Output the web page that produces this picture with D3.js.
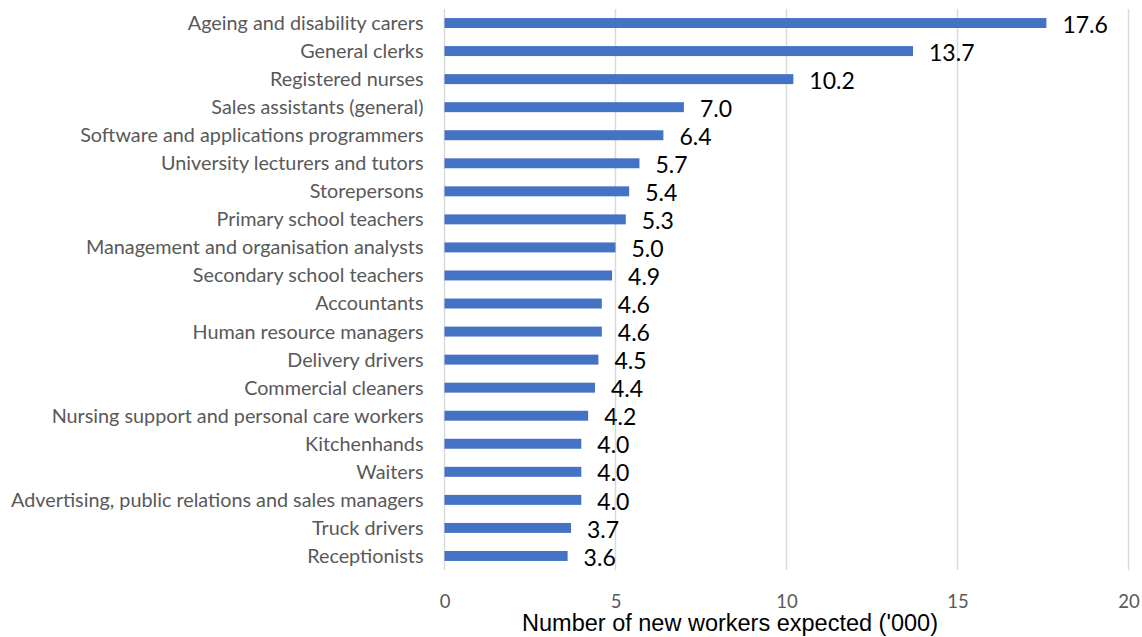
<!DOCTYPE html>
<html>
<head>
<meta charset="utf-8">
<script src="https://cdn.jsdelivr.net/npm/d3@7"></script>
<style>
  html, body { margin: 0; padding: 0; background: #ffffff; }
  svg { display: block; }
</style>
</head>
<body>
<svg id="chart" width="1142" height="637"></svg>
<script>
// Occupations, largest expected intake first
const occupations = [
  "Ageing and disability carers",
  "General clerks",
  "Registered nurses",
  "Sales assistants (general)",
  "Software and applications programmers",
  "University lecturers and tutors",
  "Storepersons",
  "Primary school teachers",
  "Management and organisation analysts",
  "Secondary school teachers",
  "Accountants",
  "Human resource managers",
  "Delivery drivers",
  "Commercial cleaners",
  "Nursing support and personal care workers",
  "Kitchenhands",
  "Waiters",
  "Advertising, public relations and sales managers",
  "Truck drivers",
  "Receptionists"
];

// New workers expected ('000)
const newWorkers = [17.6, 13.7, 10.2, 7.0, 6.4, 5.7, 5.4, 5.3, 5.0, 4.9,
                    4.6, 4.6, 4.5, 4.4, 4.2, 4.0, 4.0, 4.0, 3.7, 3.6];

const xTicks = [0, 5, 10, 15, 20];
const xTitle = "Number of new workers expected ('000)";

const rows = occupations.map((name, i) => ({ name, value: newWorkers[i] }));

const svg = d3.select("#chart");
const plot = { left: 444.5, right: 1128.5, top: 9, bottom: 570 };

const x = d3.scaleLinear().domain([0, 20]).range([plot.left, plot.right]);
const y = d3.scaleBand().domain(occupations).range([plot.top, plot.bottom]).paddingInner(0.645).paddingOuter(0.3225);

// vertical gridlines
svg.append("g")
  .selectAll("line")
  .data(xTicks)
  .join("line")
  .attr("x1", d => x(d)).attr("x2", d => x(d))
  .attr("y1", plot.top).attr("y2", plot.bottom)
  .attr("stroke", "#d9d9d9")
  .attr("stroke-width", 1.5);

// x tick labels
const xAxis = d3.axisBottom(x).tickValues(xTicks).tickSize(0).tickPadding(0).tickFormat(d3.format("d"));
const gx = svg.append("g")
  .attr("transform", `translate(0, ${plot.bottom + 38})`)
  .call(xAxis);
gx.select(".domain").remove();
gx.selectAll("text")
  .attr("dy", null)
  .attr("font-family", "Lato, 'Open Sans', sans-serif")
  .attr("font-size", 18.5)
  .attr("fill", "#595959");

// category labels
const yAxis = d3.axisLeft(y).tickSize(0).tickPadding(0);
const gy = svg.append("g")
  .attr("transform", `translate(${plot.left - 21}, 0)`)
  .call(yAxis);
gy.select(".domain").remove();
gy.selectAll("text")
  .attr("dy", "0.35em")
  .attr("font-family", "Lato, 'Open Sans', sans-serif")
  .attr("font-size", 19.8)
  .attr("fill", "#595959");

// bars
svg.append("g")
  .selectAll("rect")
  .data(rows)
  .join("rect")
  .attr("x", x(0))
  .attr("y", d => y(d.name))
  .attr("width", d => x(d.value) - x(0))
  .attr("height", y.bandwidth())
  .attr("fill", "#4472c4");

// value labels
svg.append("g")
  .selectAll("text")
  .data(rows)
  .join("text")
  .attr("x", d => x(d.value) + 16)
  .attr("y", d => y(d.name) + y.bandwidth() / 2)
  .attr("dy", "0.42em")
  .attr("font-family", "Lato, 'Open Sans', sans-serif")
  .attr("font-size", 23)
  .attr("fill", "#000000")
  .text(d => d.value.toFixed(1));

// axis title
svg.append("text")
  .attr("x", 730)
  .attr("y", 631)
  .attr("text-anchor", "middle")
  .attr("font-family", "'Liberation Sans', Arial, sans-serif")
  .attr("font-size", 23.5)
  .attr("fill", "#000000")
  .text(xTitle);
</script>
</body>
</html>
